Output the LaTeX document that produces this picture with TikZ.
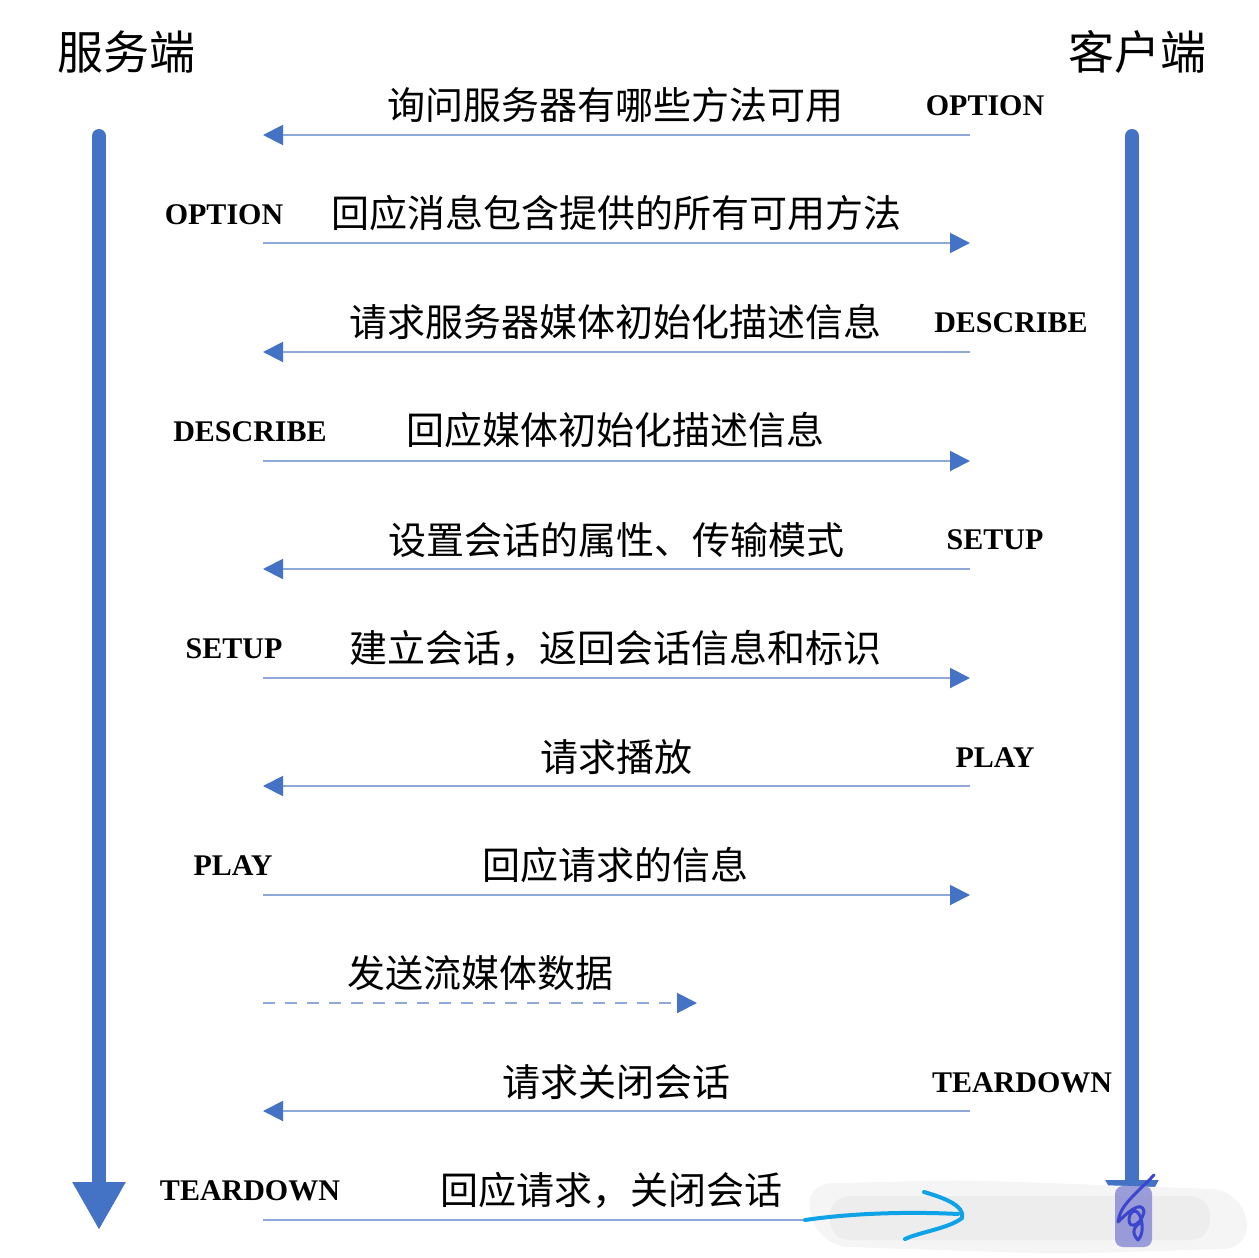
\documentclass[tikz,border=0pt]{standalone}
\usepackage{fontspec}
\setmainfont{Liberation Serif}
\newfontfamily\cjk{Noto Sans CJK SC}
\usetikzlibrary{arrows.meta}
\definecolor{lifeblue}{HTML}{4472C4}
\definecolor{msgline}{HTML}{8FA8D8}
\definecolor{pencyan}{HTML}{0EA2E6}
\definecolor{penpurple}{HTML}{3C46CC}
\definecolor{hlpurple}{HTML}{7C80D2}
\tikzset{
  cn/.style={font=\cjk\fontsize{38}{42}\selectfont, inner sep=0pt},
  en/.style={font=\bfseries\fontsize{30}{34}\selectfont, inner sep=0pt},
  ttl/.style={font=\cjk\fontsize{46}{50}\selectfont, inner sep=0pt},
  msg/.style={draw=msgline, line width=2pt, -{Triangle[length=20pt,width=20pt,color=lifeblue,fill=lifeblue]}},
  msgdash/.style={msg, dash pattern=on 12pt off 10pt},
  life/.style={draw=lifeblue, line width=14pt, line cap=round, -{Triangle[length=48pt,width=50pt]}},
  pen/.style={line width=4pt, line cap=round, line join=round},
}
\begin{document}
\begin{tikzpicture}[x=1pt,y=-1pt]
\useasboundingbox (0,0) rectangle (1259,1258);
\fill[white] (0,0) rectangle (1259,1258);
% titles
\node[ttl] (srv) at (126,52) {服务端};
\node[ttl] (cli) at (1137,52) {客户端};
% lifelines
\coordinate (Ltop) at (99,136);
\coordinate (Lbot) at (99,1230);
\coordinate (Rtop) at (1132,136);
\coordinate (Rbot) at (1132,1228);
\draw[life] (Ltop) -- (Lbot);
\draw[life] (Rtop) -- (Rbot);
% message endpoints
\foreach \i/\y in {1/135,2/243,3/352,4/461,5/569,6/678,7/786,8/895,9/1003,10/1111,11/1220}{
  \coordinate (a\i) at (263,\y);
  \coordinate (b\i) at (970,\y);
}
\coordinate (b9) at (697,1003);
\coordinate (e11) at (805,1220);
% arrows
\draw[msg] (b1) -- (a1);
\draw[msg] (a2) -- (b2);
\draw[msg] (b3) -- (a3);
\draw[msg] (a4) -- (b4);
\draw[msg] (b5) -- (a5);
\draw[msg] (a6) -- (b6);
\draw[msg] (b7) -- (a7);
\draw[msg] (a8) -- (b8);
\draw[msgdash] (a9) -- (b9);
\draw[msg] (b10) -- (a10);
\draw[draw=msgline, line width=2pt] (a11) -- (e11);
% labels
\node[cn] (t1) at (615,105) {询问服务器有哪些方法可用};
\node[en] (m1) at (985,106) {OPTION};
\node[en] (m2) at (224,215) {OPTION};
\node[cn] (t2) at (616,213) {回应消息包含提供的所有可用方法};
\node[cn] (t3) at (615,322) {请求服务器媒体初始化描述信息};
\node[en] (m3) at (1011,323) {DESCRIBE};
\node[en] (m4) at (250,432) {DESCRIBE};
\node[cn] (t4) at (615,430) {回应媒体初始化描述信息};
\node[cn] (t5) at (616,540) {设置会话的属性、传输模式};
\node[en] (m5) at (995,540) {SETUP};
\node[en] (m6) at (234,649) {SETUP};
\node[cn] (t6) at (615,648) {建立会话，返回会话信息和标识};
\node[cn] (t7) at (616,757) {请求播放};
\node[en] (m7) at (995,758) {PLAY};
\node[en] (m8) at (233,866) {PLAY};
\node[cn] (t8) at (615,865) {回应请求的信息};
\node[cn] (t9) at (480,973) {发送流媒体数据};
\node[cn] (t10) at (616,1082) {请求关闭会话};
\node[en] (m10) at (1022,1083) {TEARDOWN};
\node[en] (m11) at (250,1191) {TEARDOWN};
\node[cn] (t11) at (611,1190) {回应请求，关闭会话};
% erased smudge
\fill[black!4, rounded corners=28pt] (803,1184) -- (960,1180) -- (1240,1190) -- (1252,1248) -- (1060,1254) -- (820,1246) -- cycle;
\fill[black!7, rounded corners=20pt] (830,1196) rectangle (1210,1240);
% hand-drawn cyan arrow
\draw[pen, pencyan] (e11) .. controls (860,1212) and (920,1212) .. (958,1214);
\draw[pen, pencyan] (924,1192) .. controls (945,1198) and (965,1206) .. (962,1218) .. controls (950,1228) and (920,1232) .. (905,1239);
% purple highlight and scribble
\fill[hlpurple, opacity=0.75, rounded corners=8pt] (1115,1186) rectangle (1152,1247);
\draw[pen, penpurple, line width=3pt] (1154,1175) .. controls (1135,1195) and (1120,1205) .. (1118,1222)
  .. controls (1125,1215) and (1142,1198) .. (1144,1212) .. controls (1140,1228) and (1125,1230) .. (1130,1215)
  .. controls (1138,1200) and (1148,1230) .. (1138,1240) .. controls (1130,1232) and (1135,1225) .. (1142,1222);
\end{tikzpicture}
\end{document}
